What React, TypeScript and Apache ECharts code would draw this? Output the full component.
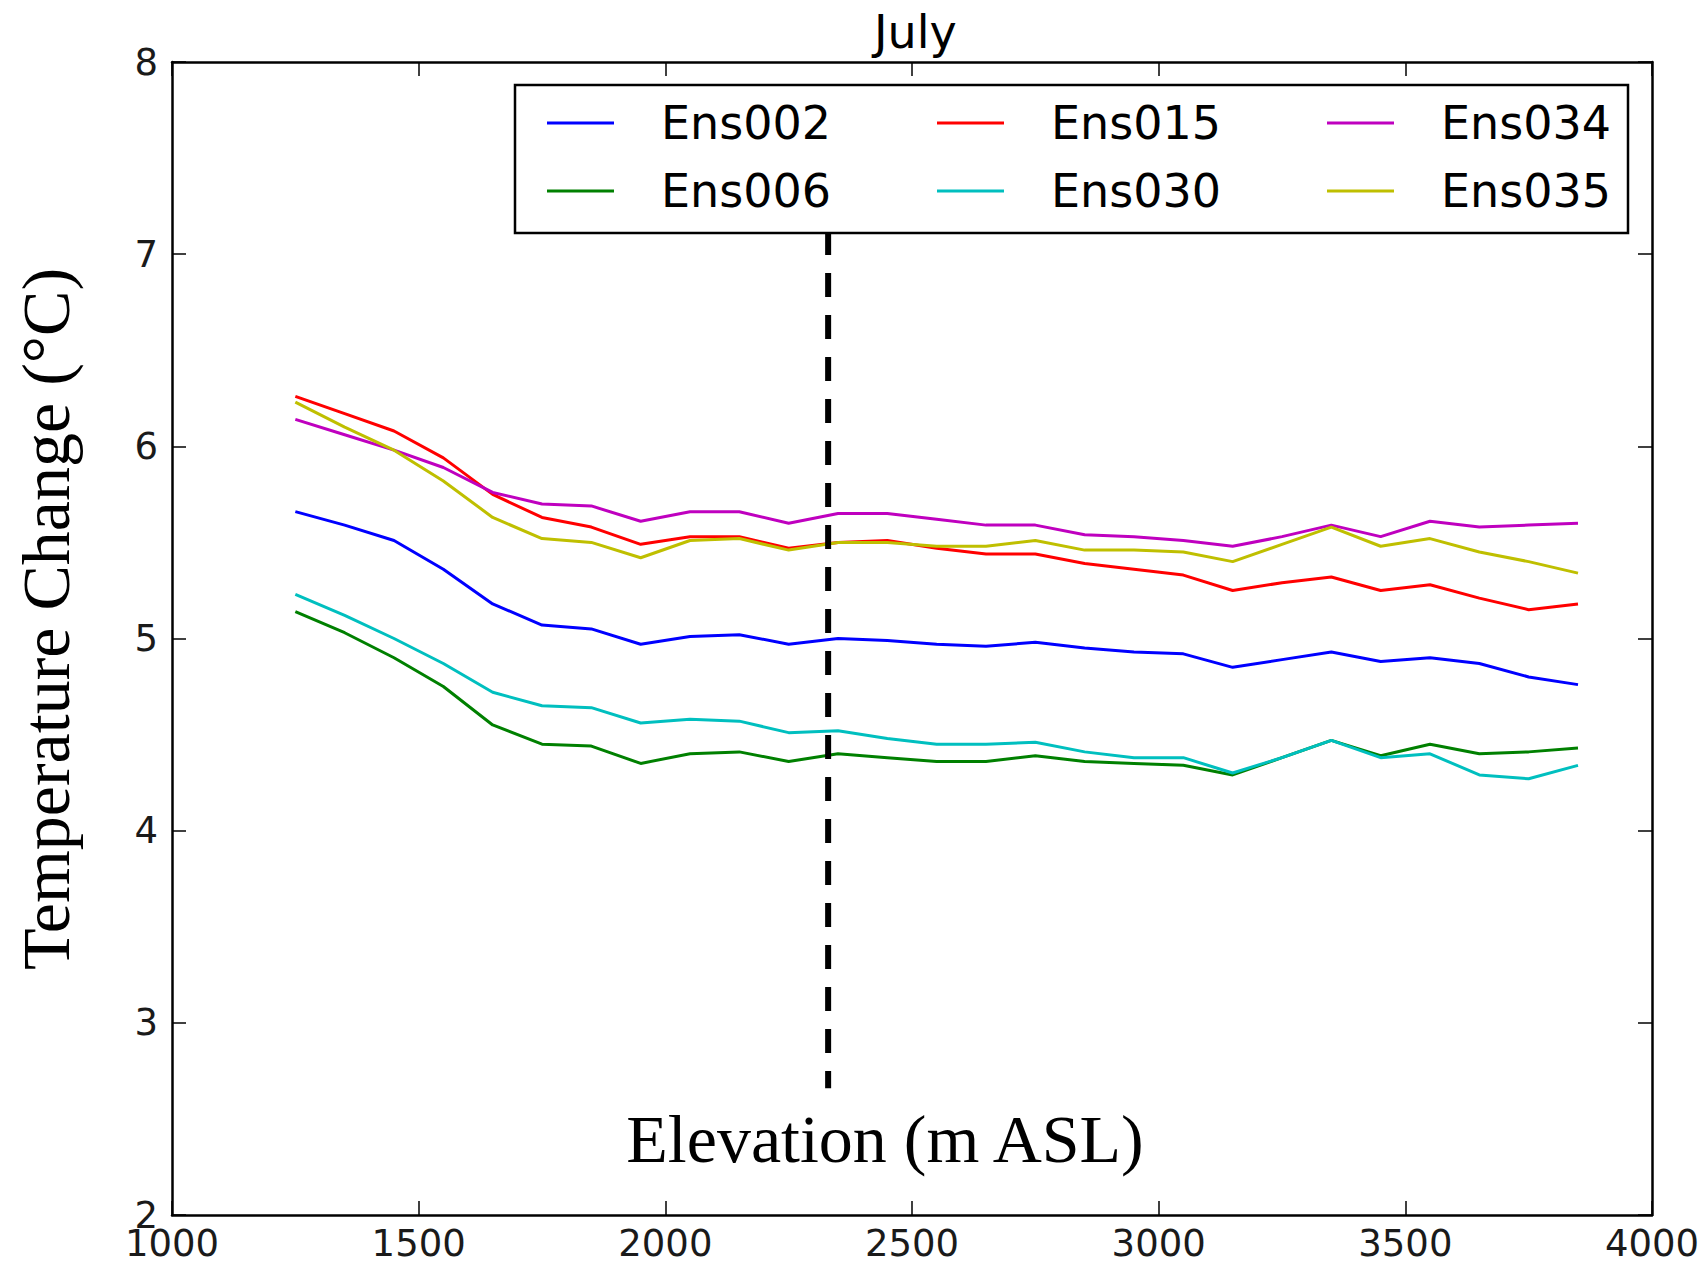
import React, { useEffect, useRef } from "react";
import * as echarts from "echarts";

const elevations = [1250, 1350, 1450, 1550, 1650, 1750, 1850, 1950, 2050, 2150, 2250, 2350, 2450, 2550, 2650, 2750, 2850, 2950, 3050, 3150, 3250, 3350, 3450, 3550, 3650, 3750, 3850];

const ens002 = [5.66, 5.59, 5.51, 5.36, 5.18, 5.07, 5.05, 4.97, 5.01, 5.02, 4.97, 5.0, 4.99, 4.97, 4.96, 4.98, 4.95, 4.93, 4.92, 4.85, 4.89, 4.93, 4.88, 4.9, 4.87, 4.8, 4.76];
const ens006 = [5.14, 5.03, 4.9, 4.75, 4.55, 4.45, 4.44, 4.35, 4.4, 4.41, 4.36, 4.4, 4.38, 4.36, 4.36, 4.39, 4.36, 4.35, 4.34, 4.29, 4.38, 4.47, 4.39, 4.45, 4.4, 4.41, 4.43];
const ens015 = [6.26, 6.17, 6.08, 5.94, 5.75, 5.63, 5.58, 5.49, 5.53, 5.53, 5.47, 5.5, 5.51, 5.47, 5.44, 5.44, 5.39, 5.36, 5.33, 5.25, 5.29, 5.32, 5.25, 5.28, 5.21, 5.15, 5.18];
const ens030 = [5.23, 5.12, 5.0, 4.87, 4.72, 4.65, 4.64, 4.56, 4.58, 4.57, 4.51, 4.52, 4.48, 4.45, 4.45, 4.46, 4.41, 4.38, 4.38, 4.3, 4.38, 4.47, 4.38, 4.4, 4.29, 4.27, 4.34];
const ens034 = [6.14, 6.06, 5.98, 5.89, 5.76, 5.7, 5.69, 5.61, 5.66, 5.66, 5.6, 5.65, 5.65, 5.62, 5.59, 5.59, 5.54, 5.53, 5.51, 5.48, 5.53, 5.59, 5.53, 5.61, 5.58, 5.59, 5.6];
const ens035 = [6.23, 6.1, 5.98, 5.82, 5.63, 5.52, 5.5, 5.42, 5.51, 5.52, 5.46, 5.5, 5.5, 5.48, 5.48, 5.51, 5.46, 5.46, 5.45, 5.4, 5.49, 5.58, 5.48, 5.52, 5.45, 5.4, 5.34];

const seriesNames = ["Ens002", "Ens006", "Ens015", "Ens030", "Ens034", "Ens035"];
const seriesValues = [ens002, ens006, ens015, ens030, ens034, ens035];
const seriesColors = ["#0000ff", "#008000", "#ff0000", "#00bfbf", "#bf00bf", "#bfbf00"];

// vertical dashed marker: elevation and its vertical extent (°C)
const dividerElevation = 2330;
const dividerRange = [7.12, 2.66];

const chartTitle = "July";
const xAxisTitle = "Elevation (m ASL)";
const yAxisTitle = "Temperature Change (°C)";

export default function App() {
  const ref = useRef<HTMLDivElement>(null);

  useEffect(() => {
    document.body.style.margin = "0";
    if (!ref.current) return;
    const chart = echarts.init(ref.current, undefined, { renderer: "svg" });

    const tickFont = {
      fontFamily: "DejaVu Sans",
      fontSize: 37,
      color: "#1a1a1a",
    };
    const axisLine = { show: true, onZero: false, lineStyle: { color: "#000", width: 2.5 } };
    const axisTick = { show: true, inside: true, length: 14, lineStyle: { color: "#000", width: 1.5 } };

    const lineSeries = seriesNames.map((name, i) => ({
      name,
      type: "line",
      data: elevations.map((e, j) => [e, seriesValues[i][j]]),
      symbol: "none",
      showSymbol: false,
      lineStyle: { color: seriesColors[i], width: 3 },
      itemStyle: { color: seriesColors[i] },
      z: 2,
    }));

    const legendText = {
      fontFamily: "DejaVu Sans",
      fontSize: 46,
      color: "#000",
      lineHeight: 58,
      padding: [0, 0, 0, 42],
    };
    const legendColumns = [
      ["Ens002", "Ens006"],
      ["Ens015", "Ens030"],
      ["Ens034", "Ens035"],
    ];
    const legendLefts = [547, 937, 1327];

    const option: any = {
      animation: false,
      backgroundColor: "#fff",
      title: {
        text: chartTitle,
        left: 869,
        top: 4,
        textStyle: { fontFamily: "DejaVu Sans", fontSize: 46, fontWeight: "normal", color: "#000" },
      },
      grid: { left: 172, right: 52, top: 62, bottom: 54, containLabel: false },
      legend: legendColumns.map((col, i) => ({
        data: col,
        orient: "vertical",
        left: legendLefts[i],
        top: 94,
        padding: 0,
        itemGap: 10,
        icon: "rect",
        itemWidth: 67,
        itemHeight: 3,
        textStyle: legendText,
        z: 6,
      })),
      xAxis: [
        {
          type: "value",
          position: "bottom",
          min: 1000,
          max: 4000,
          interval: 500,
          axisLine,
          axisTick,
          axisLabel: { ...tickFont, margin: 10, formatter: (v: number) => String(v) },
          splitLine: { show: false },
        },
        {
          type: "value",
          position: "top",
          min: 1000,
          max: 4000,
          interval: 500,
          axisLine,
          axisTick,
          axisLabel: { show: false },
          splitLine: { show: false },
        },
      ],
      yAxis: [
        {
          type: "value",
          position: "left",
          min: 2,
          max: 8,
          interval: 1,
          axisLine,
          axisTick,
          axisLabel: { ...tickFont, margin: 14, formatter: (v: number) => String(v) },
          splitLine: { show: false },
        },
        {
          type: "value",
          position: "right",
          min: 2,
          max: 8,
          interval: 1,
          axisLine,
          axisTick,
          axisLabel: { show: false },
          splitLine: { show: false },
        },
      ],
      series: [
        ...lineSeries,
        {
          name: "divider",
          type: "line",
          data: [
            [dividerElevation, dividerRange[0]],
            [dividerElevation, dividerRange[1]],
          ],
          symbol: "none",
          silent: true,
          lineStyle: { color: "#000", width: 6, type: [24, 18] },
          z: 3,
        },
      ],
      graphic: [
        {
          type: "rect",
          shape: { x: 515, y: 85, width: 1113, height: 148 },
          style: { fill: "#fff", stroke: "#000", lineWidth: 2.5 },
          z: 5,
          silent: true,
        },
        {
          type: "text",
          x: 885,
          y: 1139,
          style: {
            text: xAxisTitle,
            fontFamily: "Liberation Serif",
            fontSize: 68,
            fill: "#000",
            align: "center",
            verticalAlign: "middle",
          },
          z: 7,
        },
        {
          type: "text",
          x: 46,
          y: 619,
          rotation: Math.PI / 2,
          style: {
            text: yAxisTitle,
            fontFamily: "Liberation Serif",
            fontSize: 68,
            fill: "#000",
            align: "center",
            verticalAlign: "middle",
          },
          z: 7,
        },
      ],
    };

    chart.setOption(option);
    return () => chart.dispose();
  }, []);

  return <div ref={ref} style={{ width: 1704, height: 1269 }} />;
}
